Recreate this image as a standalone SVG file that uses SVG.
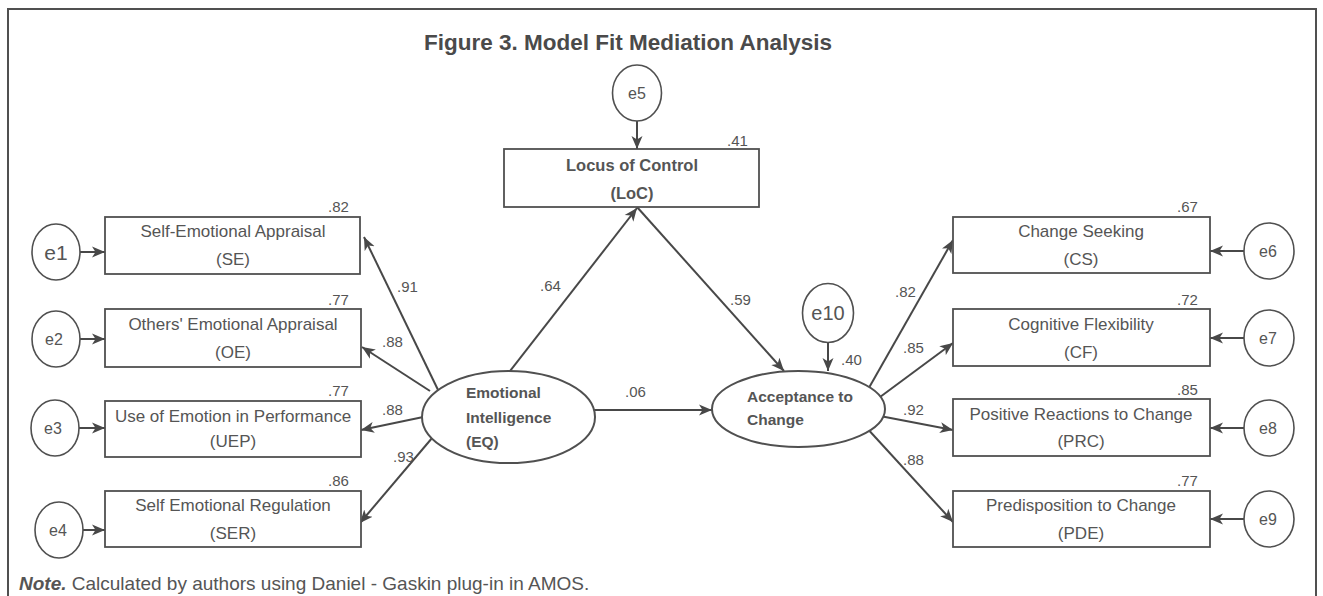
<svg xmlns="http://www.w3.org/2000/svg" width="1323" height="596" viewBox="0 0 1323 596">
<style>
.frame{fill:none;stroke:#505050;stroke-width:2}
.box{fill:#fff;stroke:#505050;stroke-width:1.8}
.err{fill:#fff;stroke:#505050;stroke-width:1.6}
.lat{fill:#fff;stroke:#505050;stroke-width:2}
.c{stroke:#484848;stroke-width:2;fill:none;marker-end:url(#ah)}
text{font-family:"Liberation Sans",Arial,sans-serif;fill:#555}
.lbl{font-size:17px;text-anchor:middle}
.num{font-size:15px}
.e{font-size:16px;text-anchor:middle}
.b{font-size:15.5px;font-weight:bold}
.bl{font-size:16.5px;font-weight:bold;text-anchor:middle}
.title{font-size:22.5px;font-weight:bold;fill:#4a4a4a}
</style>
<defs>
<marker id="ah" markerUnits="userSpaceOnUse" markerWidth="14" markerHeight="12" refX="13" refY="6" orient="auto">
<path d="M0,0.5 L13,6 L0,11.5 L3.5,6 z" fill="#484848"/>
</marker>
</defs>
<rect class="frame" x="8" y="9" width="1308" height="600"/>
<text class="title" x="424" y="50">Figure 3. Model Fit Mediation Analysis</text>

<g id="connectors">
<line class="c" x1="80" y1="252" x2="105" y2="252"/>
<line class="c" x1="80" y1="339" x2="105" y2="339"/>
<line class="c" x1="79" y1="428" x2="105" y2="428"/>
<line class="c" x1="83" y1="530" x2="105" y2="530"/>
<line class="c" x1="637" y1="121" x2="637" y2="149"/>
<line class="c" x1="1244" y1="251" x2="1210" y2="251"/>
<line class="c" x1="1244" y1="338" x2="1210" y2="338"/>
<line class="c" x1="1244" y1="428" x2="1210" y2="428"/>
<line class="c" x1="1244" y1="519" x2="1210" y2="519"/>
<line class="c" x1="828" y1="343" x2="828" y2="371"/>
<line class="c" x1="507" y1="375" x2="637" y2="208"/>
<line class="c" x1="637" y1="207" x2="784" y2="371"/>
<line class="c" x1="590" y1="410" x2="712" y2="410"/>
<line class="c" x1="440" y1="394" x2="364" y2="237"/>
<line class="c" x1="430" y1="391" x2="362" y2="347"/>
<line class="c" x1="428" y1="416" x2="361" y2="430"/>
<line class="c" x1="438" y1="431" x2="360" y2="523"/>
<line class="c" x1="866" y1="393" x2="953" y2="240"/>
<line class="c" x1="876" y1="400" x2="953" y2="343"/>
<line class="c" x1="880" y1="416" x2="953" y2="430"/>
<line class="c" x1="865" y1="426" x2="953" y2="522"/>
<text class="num" x="397" y="292">.91</text>
<text class="num" x="382" y="347">.88</text>
<text class="num" x="382" y="415">.88</text>
<text class="num" x="393" y="462">.93</text>
<text class="num" x="540" y="291">.64</text>
<text class="num" x="730" y="305">.59</text>
<text class="num" x="625" y="397">.06</text>
<text class="num" x="895" y="297">.82</text>
<text class="num" x="903" y="353">.85</text>
<text class="num" x="903" y="415">.92</text>
<text class="num" x="903" y="465">.88</text>
</g>

<g id="e1"><ellipse class="err" cx="56" cy="252" rx="24" ry="28"/><text x="56" y="260" font-size="21px" text-anchor="middle">e1</text></g>
<g id="e2"><ellipse class="err" cx="56" cy="339" rx="24" ry="28"/><text class="e" x="54" y="345">e2</text></g>
<g id="e3"><ellipse class="err" cx="55" cy="428" rx="24" ry="28"/><text class="e" x="53" y="434">e3</text></g>
<g id="e4"><ellipse class="err" cx="59" cy="530" rx="24" ry="28"/><text class="e" x="58" y="536">e4</text></g>
<g id="e5"><ellipse class="err" cx="637" cy="93" rx="24.5" ry="28"/><text class="e" x="637" y="99">e5</text></g>
<g id="e6"><ellipse class="err" cx="1269" cy="251" rx="25" ry="28"/><text class="e" x="1268" y="257">e6</text></g>
<g id="e7"><ellipse class="err" cx="1269" cy="338" rx="25" ry="28"/><text class="e" x="1268" y="344">e7</text></g>
<g id="e8"><ellipse class="err" cx="1269" cy="428" rx="25" ry="28"/><text class="e" x="1268" y="434">e8</text></g>
<g id="e9"><ellipse class="err" cx="1269" cy="519" rx="25" ry="28"/><text class="e" x="1268" y="525">e9</text></g>
<g id="e10"><ellipse class="err" cx="828" cy="313" rx="25.5" ry="29.5"/><text x="828" y="320" font-size="20px" text-anchor="middle">e10</text></g>

<g id="SE"><rect class="box" x="105" y="217" width="255" height="57"/><text class="lbl" x="233" y="237">Self-Emotional Appraisal</text><text class="lbl" x="233" y="265">(SE)</text><text class="num" x="328" y="212">.82</text></g>
<g id="OE"><rect class="box" x="105" y="309" width="256" height="58"/><text class="lbl" x="233" y="330">Others' Emotional Appraisal</text><text class="lbl" x="233" y="358">(OE)</text><text class="num" x="328" y="305">.77</text></g>
<g id="UEP"><rect class="box" x="105" y="401" width="256" height="56"/><text class="lbl" x="233" y="422">Use of Emotion in Performance</text><text class="lbl" x="233" y="447">(UEP)</text><text class="num" x="328" y="396">.77</text></g>
<g id="SER"><rect class="box" x="105" y="491" width="256" height="56"/><text class="lbl" x="233" y="511">Self Emotional Regulation</text><text class="lbl" x="233" y="539">(SER)</text><text class="num" x="328" y="486">.86</text></g>

<g id="LoC"><rect class="box" x="504" y="149" width="255" height="58"/><text class="bl" x="632" y="171">Locus of Control</text><text class="bl" x="632" y="199">(LoC)</text><text class="num" x="727" y="146">.41</text></g>

<g id="EQ"><ellipse class="lat" cx="508.5" cy="417" rx="86.5" ry="46"/><text class="b" x="466" y="398">Emotional</text><text class="b" x="466" y="423">Intelligence</text><text class="b" x="466" y="447">(EQ)</text></g>
<g id="AC"><ellipse class="lat" cx="798.5" cy="409" rx="86.5" ry="38"/><text class="b" x="747" y="402">Acceptance to</text><text class="b" x="747" y="425">Change</text><text class="num" x="841" y="365">.40</text></g>

<g id="CS"><rect class="box" x="953" y="217" width="257" height="56"/><text class="lbl" x="1081" y="237">Change Seeking</text><text class="lbl" x="1081" y="265">(CS)</text><text class="num" x="1177" y="212">.67</text></g>
<g id="CF"><rect class="box" x="953" y="309" width="257" height="57"/><text class="lbl" x="1081" y="330">Cognitive Flexibility</text><text class="lbl" x="1081" y="358">(CF)</text><text class="num" x="1177" y="305">.72</text></g>
<g id="PRC"><rect class="box" x="953" y="399" width="257" height="57"/><text class="lbl" x="1081" y="420">Positive Reactions to Change</text><text class="lbl" x="1081" y="447">(PRC)</text><text class="num" x="1177" y="395">.85</text></g>
<g id="PDE"><rect class="box" x="953" y="491" width="257" height="56"/><text class="lbl" x="1081" y="511">Predisposition to Change</text><text class="lbl" x="1081" y="539">(PDE)</text><text class="num" x="1177" y="486">.77</text></g>

<text x="19" y="590" font-size="19px"><tspan font-weight="bold" font-style="italic">Note.</tspan> Calculated by authors using Daniel - Gaskin plug-in in AMOS.</text>
</svg>
